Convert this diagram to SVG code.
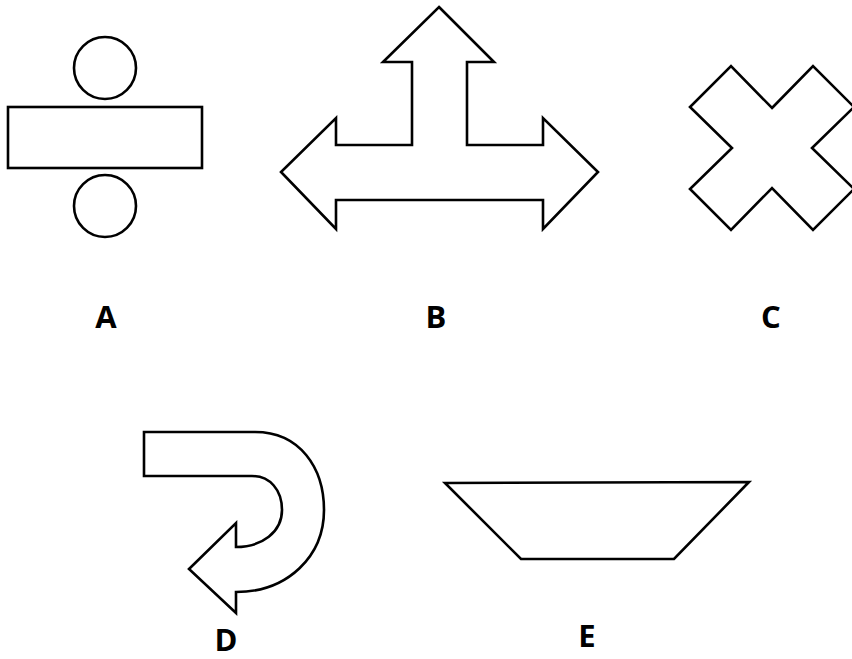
<svg xmlns="http://www.w3.org/2000/svg" width="852" height="659" viewBox="0 0 852 659">
<style>
.s{fill:#fff;stroke:#000;stroke-width:2.6;stroke-linejoin:miter}
.l{font-family:"Open Sans","Liberation Sans",sans-serif;font-weight:bold;font-size:31px;fill:#000;text-anchor:middle}
</style>
<rect width="852" height="659" fill="#fff"/>
<g id="A">
<circle class="s" cx="105" cy="68" r="31"/>
<rect class="s" x="8" y="107" width="194" height="61"/>
<circle class="s" cx="105" cy="206" r="31"/>
<text class="l" x="106" y="328">A</text>
</g>
<g id="B">
<polygon class="s" points="439,7 494,62 467,62 467,145 543,145 543,118 598,172 543,229 543,200 336,200 336,229 281,172 336,118 336,145 412,145 412,62 383,62"/>
<text class="l" x="436" y="328">B</text>
</g>
<g id="C">
<polygon class="s" points="772,108 813,66 854,107 812,148 854,189 813,230 772,188 731,230 690,189 732,148 690,107 731,66"/>
<text class="l" x="771" y="328">C</text>
</g>
<g id="D">
<path class="s" d="M144,432 H255 C300,432 324,468 324,510 C324,556 288,592 236,592 V613 L189,569 L236,523 V547 C262,547 282,532 282,510 C282,490 270,476 252,476 H144 Z"/>
<text class="l" x="226" y="651">D</text>
</g>
<g id="E">
<polygon class="s" points="445,483 749,482 674,559 521,559"/>
<text class="l" x="587" y="647">E</text>
</g>
<g id="connectors"></g>
</svg>
